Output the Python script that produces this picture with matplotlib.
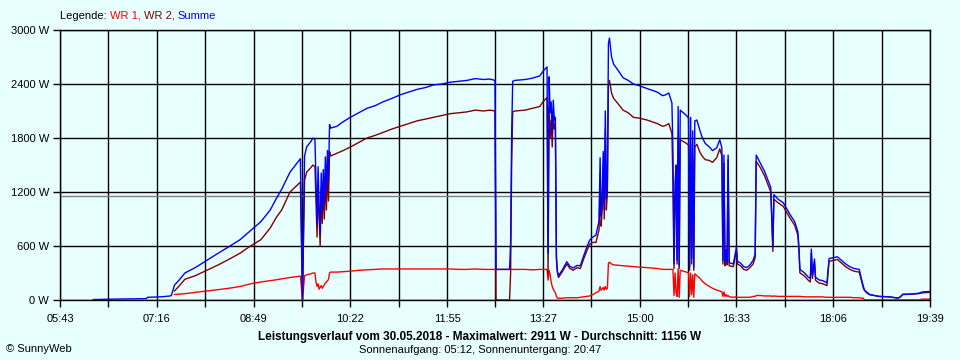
import numpy as np
import matplotlib
matplotlib.use('Agg')
import matplotlib.pyplot as plt

plt.rcParams['font.family'] = ['Liberation Sans', 'DejaVu Sans']

nan = np.nan

# minutes after midnight, WR 1, WR 2, Summe (W)
minutes = [375, 395, 426, 427, 440, 449, 450, 453, 457, 463, 473, 484, 495, 505, 516, 526, 536, 545, 551, 556, 564, 574,
           576, 578, 580, 584, 586, 588, 589, 590, 591, 592, 593, 594, 595, 596, 597, 598, 599, 600, 601, 602, 603,
           609, 615, 622, 630, 638, 646, 653, 662, 670, 678, 686, 694, 702, 710, 718, 726, 734, 742, 750, 756, 761,
           762, 775, 776, 777, 778, 780, 790, 797, 804, 807, 811, 812, 813, 814, 815, 816, 817, 818, 819, 820, 821,
           822, 826, 830, 833, 836, 840, 843, 846, 849, 852, 855, 858, 861, 862, 863, 864, 865, 866, 867, 868, 869,
           870, 871, 873, 875, 880, 884, 889, 894, 900, 907, 912, 917, 922, 925, 928, 931, 932, 933, 934, 935, 936,
           937, 938, 939, 942, 945, 947, 948, 949, 950, 951, 952, 953, 955, 958, 960, 963, 967, 970, 974, 977, 979,
           980, 981, 982, 983, 984, 985, 986, 990, 993, 994, 997, 1000, 1003, 1006, 1009, 1011, 1012, 1016, 1020,
           1023, 1026, 1028, 1029, 1033, 1038, 1041, 1045, 1049, 1052, 1053, 1054, 1058, 1062, 1064, 1065, 1066,
           1068, 1069, 1072, 1076, 1080, 1082, 1086, 1090, 1094, 1098, 1102, 1106, 1111, 1113, 1115, 1116, 1118,
           1121, 1130, 1140, 1148, 1150, 1153, 1160, 1168, 1172, 1179]

wr1 = [nan, nan, nan, nan, nan, nan, nan, 60, 65, 70, 85, 100, 115, 130, 150, 180, 200, 215, 225, 235, 250, 265,
       0, 270, 280, 290, 300, 300, 200, 150, 180, 120, 140, 160, 130, 150, 170, 190, 200, 210, 230, 300, 310,
       310, 315, 320, 330, 335, 340, 345, 345, 345, 345, 345, 345, 345, 345, 345, 340, 340, 345, 340, 340, 340,
       340, 340, 340, 340, 340, 340, 340, 335, 340, 340, 340, 220, 330, 280, 200, 150, 120, 100, 80, 40, 20,
       20, 20, 25, 25, 25, 25, 30, 35, 40, 45, 60, 80, 100, 150, 110, 120, 140, 110, 150, 120, 130,
       410, 420, 400, 390, 385, 380, 375, 370, 365, 360, 355, 350, 340, 340, 340, 340, 340, 50, 300, 80, 40,
       350, 30, 330, 320, 310, 300, 40, 300, 60, 280, 30, 290, 270, 240, 210, 180, 150, 130, 110, 100, 90,
       40, 90, 40, 60, 40, 50, 35, 30, 35, 30, 30, 30, 30, 30, 40, 40, 50, 50, 45,
       45, 45, 40, 45, 40, 40, 40, 40, 40, 40, 40, 40, 35, 35, 35, 35, 35,
       35, 35, 35, 35, 30, 30, 30, 30, 30, 30, 30, 25, 25, 20, 20, 0, 0,
       0, 0, 0, 0, 0, 0, 0, 0, 10, 10]

wr2 = [nan, nan, nan, nan, nan, nan, nan, 100, 150, 230, 270, 330, 390, 450, 520, 600, 670, 800, 920, 1000, 1200, 1310,
       0, 1330, 1420, 1470, 1500, 1480, 1100, 700, 1300, 900, 600, 1250, 850, 1300, 900, 1400, 1000, 1450, 1100, 1650, 1600,
       1630, 1660, 1700, 1750, 1800, 1830, 1860, 1900, 1930, 1960, 1990, 2010, 2030, 2050, 2070, 2080, 2090, 2110, 2100, 2110, 2100,
       0, 0, 300, 1500, 2090, 2100, 2110, 2130, 2150, 2200, 2250, 300, 2150, 1800, 2000, 1700, 2100, 1900, 1950, 450, 300,
       250, 320, 400, 350, 330, 360, 350, 450, 540, 620, 640, 640, 780, 1400, 820, 1000, 1500, 900, 1900, 1000, 1200,
       2380, 2440, 2300, 2240, 2170, 2110, 2080, 2030, 2020, 2000, 1980, 1960, 1930, 1940, 1960, 1850, 1300, 350, 1000, 1400, 400,
       1800, 350, 1780, 1760, 1740, 1720, 330, 1730, 400, 1600, 330, 1700, 1730, 1640, 1600, 1560, 1550, 1530, 1580, 1680, 1600,
       400, 1520, 380, 500, 390, 1560, 380, 370, 550, 400, 380, 340, 330, 360, 400, 470, 1540, 1470, 1380,
       1290, 1200, 540, 1120, 1080, 1040, 980, 900, 830, 720, 560, 300, 270, 220, 200, 530, 240,
       420, 220, 190, 180, 160, 430, 440, 450, 410, 370, 340, 320, 310, 220, 130, 110, 80,
       60, 40, 35, 20, 30, 60, 65, 70, 80, 85]

summe = [5, 10, 15, 30, 35, 45, 50, 165, 215, 300, 360, 440, 520, 590, 670, 770, 870, 1000, 1130, 1230, 1420, 1570,
         0, 1600, 1700, 1760, 1800, 1780, 1300, 850, 1480, 1020, 740, 1410, 980, 1450, 1070, 1590, 1200, 1660, 1330, 1950, 1910,
         1930, 1980, 2030, 2080, 2130, 2160, 2200, 2240, 2280, 2310, 2340, 2360, 2390, 2400, 2420, 2430, 2440, 2460, 2450, 2455, 2440,
         340, 340, 640, 1840, 2430, 2440, 2450, 2465, 2490, 2540, 2590, 520, 2480, 2080, 2200, 1850, 2220, 2000, 2030, 490, 320,
         270, 340, 425, 375, 355, 385, 380, 485, 580, 665, 700, 720, 880, 1580, 930, 1120, 1650, 1010, 2100, 1120, 1330,
         2850, 2911, 2700, 2620, 2540, 2470, 2440, 2400, 2380, 2350, 2330, 2310, 2270, 2280, 2300, 2190, 1640, 400, 1300, 1500, 440,
         2150, 380, 2110, 2080, 2050, 2020, 370, 2030, 460, 1880, 360, 1990, 2000, 1880, 1810, 1740, 1700, 1660, 1690, 1780, 1690,
         440, 1610, 420, 560, 430, 1610, 415, 400, 585, 430, 410, 370, 360, 390, 440, 510, 1610, 1520, 1430,
         1340, 1250, 590, 1170, 1120, 1080, 1020, 940, 870, 760, 600, 340, 305, 255, 240, 565, 275,
         455, 255, 225, 215, 190, 460, 470, 480, 440, 400, 370, 350, 340, 240, 150, 110, 90,
         60, 40, 35, 22, 30, 65, 65, 75, 90, 95]

x_labels = ['05:43', '07:16', '08:49', '10:22', '11:55', '13:27', '15:00', '16:33', '18:06', '19:39']
y_ticks = [0, 600, 1200, 1800, 2400, 3000]
average = 1156

bg = '#E8FFFF'
fig = plt.figure(figsize=(9.6, 3.6), dpi=100, facecolor=bg)
ax = fig.add_axes([60 / 960, 60 / 360, 870 / 960, 270 / 360], facecolor=bg)

x_major = [int(s[:2]) * 60 + int(s[3:]) for s in x_labels]
x_minor = [(a + b) / 2 for a, b in zip(x_major[:-1], x_major[1:])]
for xv in x_major + x_minor:
    ax.axvline(xv, color='black', lw=1.0, zorder=1)
for yv in y_ticks:
    ax.axhline(yv, color='black', lw=1.0, zorder=1)
ax.axhline(average, color='#808080', lw=1.0, zorder=1.5)

ax.plot(minutes, wr1, color='#FF0000', lw=1.0, zorder=2)
ax.plot(minutes, wr2, color='#800000', lw=1.0, zorder=3)
ax.plot(minutes, summe, color='#0000FF', lw=1.0, zorder=4)

ax.set_xlim(x_major[0], x_major[-1])
ax.set_ylim(0, 3000)
ax.set_xticks(x_major)
ax.set_xticks(x_minor, minor=True)
ax.set_xticklabels(x_labels)
ax.set_yticks(y_ticks)
ax.set_yticklabels(['%d W' % v for v in y_ticks])
ax.tick_params(axis='both', which='both', length=5, width=1.0, color='black', labelsize=8, pad=3)
ax.tick_params(axis='x', pad=5)
for side in ax.spines.values():
    side.set_color('black')
    side.set_linewidth(1.0)

# legend line at the top
parts = [('Legende: ', 'black'), ('WR 1, ', '#FF0000'), ('WR 2, ', '#800000'), ('Summe', '#0000FF')]
fig.canvas.draw()
xpos = 60 / 960
for txt, col in parts:
    t = fig.text(xpos, 1 - 16 / 360, txt, color=col, fontsize=8, va='center', ha='left')
    bb = t.get_window_extent(renderer=fig.canvas.get_renderer())
    xpos += bb.width / 960

fig.text(0.5, 1 - 337 / 360, 'Leistungsverlauf vom 30.05.2018 - Maximalwert: 2911 W - Durchschnitt: 1156 W',
         fontsize=8.5, fontweight='bold', ha='center', va='center')
fig.text(0.5, 1 - 350 / 360, 'Sonnenaufgang: 05:12, Sonnenuntergang: 20:47', fontsize=8, ha='center', va='center')
fig.text(6 / 960, 1 - 349 / 360, '© SunnyWeb', fontsize=8, ha='left', va='center')

fig.savefig('out.png', dpi=100, facecolor=bg)
